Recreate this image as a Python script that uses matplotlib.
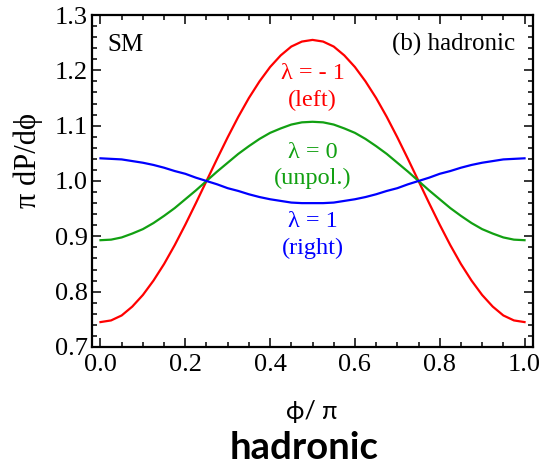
import matplotlib
matplotlib.use("Agg")
import matplotlib.pyplot as plt
from matplotlib.ticker import MultipleLocator

# phi / pi sampled every 0.025
phi = [i * 0.025 for i in range(41)]

# lambda = -1 (left)
p_left = [0.745, 0.748, 0.757, 0.773, 0.794, 0.820, 0.850, 0.884, 0.921, 0.960,
          1.000, 1.040, 1.079, 1.116, 1.150, 1.180, 1.206, 1.227, 1.243, 1.252,
          1.255,
          1.252, 1.243, 1.227, 1.206, 1.180, 1.150, 1.116, 1.079, 1.040, 1.000,
          0.960, 0.921, 0.884, 0.850, 0.820, 0.794, 0.773, 0.757, 0.748, 0.745]

# lambda = 0 (unpolarised)
p_unpol = [0.893, 0.894, 0.898, 0.905, 0.913, 0.924, 0.937, 0.951, 0.967, 0.983,
           1.000, 1.017, 1.033, 1.049, 1.063, 1.076, 1.087, 1.095, 1.102, 1.106,
           1.107,
           1.106, 1.102, 1.095, 1.087, 1.076, 1.063, 1.049, 1.033, 1.017, 1.000,
           0.983, 0.967, 0.951, 0.937, 0.924, 0.913, 0.905, 0.898, 0.894, 0.893]

# lambda = 1 (right)
p_right = [1.041, 1.040, 1.039, 1.036, 1.033, 1.029, 1.024, 1.018, 1.013, 1.006,
           1.000, 0.994, 0.987, 0.982, 0.976, 0.971, 0.967, 0.964, 0.961, 0.960,
           0.960,
           0.960, 0.961, 0.964, 0.967, 0.971, 0.976, 0.982, 0.987, 0.994, 1.000,
           1.006, 1.013, 1.018, 1.024, 1.029, 1.033, 1.036, 1.039, 1.040, 1.041]

ROUGE = "#ff0000"
VERT = "#12a012"
BLEU = "#0000ff"
SERIF = "Liberation Serif"

fig = plt.figure(figsize=(5.45, 4.66), dpi=100)
ax = fig.add_axes([0.1688, 0.2554, 0.8092, 0.7124])

ax.plot(phi, p_left, color=ROUGE, lw=1.6)
ax.plot(phi, p_unpol, color=VERT, lw=1.6)
ax.plot(phi, p_right, color=BLEU, lw=1.6)

ax.set_xlim(-0.02, 1.02)
ax.set_ylim(0.7, 1.3)
ax.xaxis.set_major_locator(MultipleLocator(0.2))
ax.xaxis.set_minor_locator(MultipleLocator(0.05))
ax.yaxis.set_major_locator(MultipleLocator(0.1))
ax.yaxis.set_minor_locator(MultipleLocator(0.02))
ax.xaxis.set_major_formatter(plt.FuncFormatter(lambda v, _: f"{v:.1f}"))
ax.yaxis.set_major_formatter(plt.FuncFormatter(lambda v, _: f"{v:.1f}"))

ax.tick_params(which="both", direction="in", top=True, right=True, width=1.1, color="black")
ax.tick_params(which="major", length=6.5)
ax.tick_params(which="minor", length=3.5)
ax.tick_params(axis="x", pad=5)
ax.tick_params(axis="y", pad=3)
for lab in ax.get_xticklabels() + ax.get_yticklabels():
    lab.set_fontfamily(SERIF)
    lab.set_fontsize(19)
for spine in ax.spines.values():
    spine.set_linewidth(1.6)

# annotations
ax.text(0.036, 0.91, "SM", transform=ax.transAxes, family=SERIF, fontsize=18,
        ha="left", va="center")
ax.text(0.959, 0.91, "(b) hadronic", transform=ax.transAxes, family=SERIF, fontsize=18,
        ha="right", va="center")

ax.text(0.5, 1.195, "λ = - 1", color=ROUGE, family=SERIF, fontsize=17.5, ha="center", va="center")
ax.text(0.5, 1.146, "(left)", color=ROUGE, family=SERIF, fontsize=17.5, ha="center", va="center")
ax.text(0.5, 1.051, "λ = 0", color=VERT, family=SERIF, fontsize=17.5, ha="center", va="center")
ax.text(0.5, 1.005, "(unpol.)", color=VERT, family=SERIF, fontsize=17.5, ha="center", va="center")
ax.text(0.5, 0.926, "λ = 1", color=BLEU, family=SERIF, fontsize=17.5, ha="center", va="center")
ax.text(0.5, 0.879, "(right)", color=BLEU, family=SERIF, fontsize=17.5, ha="center", va="center")

# axis labels and caption
fig.text(0.0514, 0.655, "π dP/dϕ", rotation=90, family=SERIF, fontsize=22,
         ha="center", va="center")
fig.text(0.5725, 0.116, "ϕ/ π", family="Lato", fontsize=18, ha="center", va="center")
fig.text(0.558, 0.0386, "hadronic", family="Lato", fontweight="bold", fontsize=27.5,
         ha="center", va="center")

fig.savefig("out.png", dpi=100)
